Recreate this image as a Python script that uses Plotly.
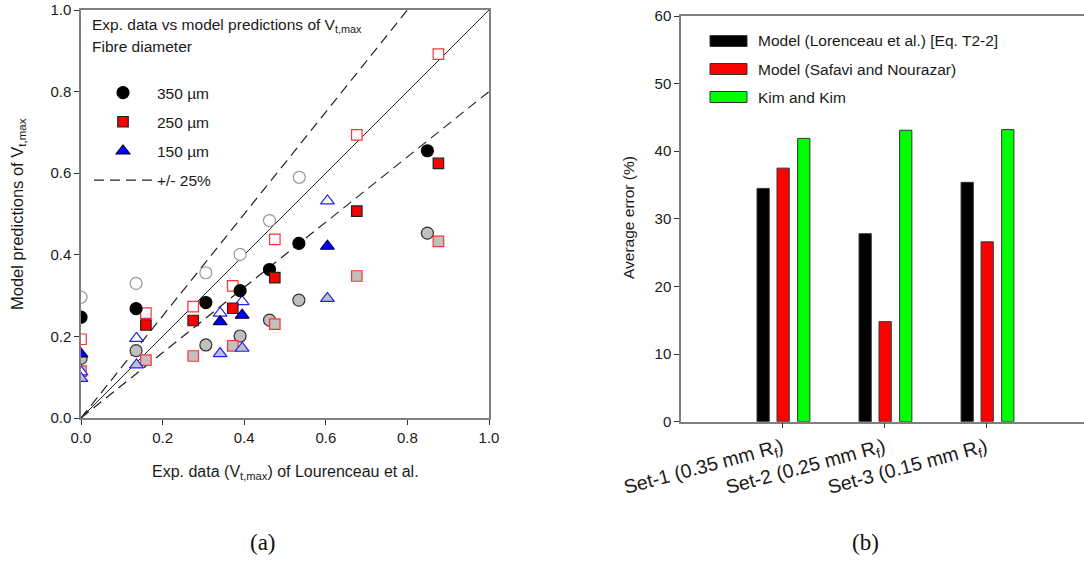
import plotly.graph_objects as go

W, H = 1084, 563

# ---------------- Left panel data (a) ----------------
x350 = [0.0, 0.135, 0.306, 0.390, 0.462, 0.534, 0.849]
y350_m1 = [0.247, 0.268, 0.283, 0.312, 0.364, 0.428, 0.655]
x350_m2 = [0.0, 0.135, 0.306, 0.390, 0.462, 0.535]
y350_m2 = [0.296, 0.330, 0.356, 0.401, 0.484, 0.590]
y350_m3 = [0.146, 0.165, 0.179, 0.201, 0.240, 0.289, 0.453]

x250 = [0.159, 0.275, 0.372, 0.475, 0.676, 0.876]
y250_m1 = [0.228, 0.239, 0.269, 0.344, 0.507, 0.624]
x250_m2 = [0.0, 0.159, 0.275, 0.372, 0.475, 0.676, 0.876]
y250_m2 = [0.193, 0.257, 0.273, 0.324, 0.438, 0.694, 0.892]
x250_m3 = [0.0, 0.159, 0.275, 0.372, 0.475, 0.676, 0.876]
y250_m3 = [0.115, 0.142, 0.152, 0.177, 0.230, 0.348, 0.433]

x150_m1 = [0.0, 0.341, 0.395, 0.604]
y150_m1 = [0.157, 0.236, 0.252, 0.421]
x150 = [0.0, 0.136, 0.341, 0.395, 0.604]
y150_m2 = [0.113, 0.195, 0.257, 0.285, 0.532]
y150_m3 = [0.097, 0.130, 0.158, 0.171, 0.293]

ref_x = [0.0, 1.0]
band = 0.25

# ---------------- Right panel data (b) ----------------
sets = ["Set-1 (0.35 mm R<sub>f</sub>)", "Set-2 (0.25 mm R<sub>f</sub>)", "Set-3 (0.15 mm R<sub>f</sub>)"]
err_lorenceau = [34.5, 27.8, 35.4]
err_safavi = [37.5, 14.8, 26.6]
err_kim = [41.9, 43.1, 43.2]
bar_names = ["Model (Lorenceau et al.) [Eq. T2-2]", "Model (Safavi and Nourazar)", "Kim and Kim"]
bar_colors = ["#000000", "#ff0000", "#00ff00"]

FONT = "Liberation Sans, Arial, sans-serif"
SERIF = "Liberation Serif, Times New Roman, serif"
GRAY = "#c0c0c0"
TXT = "#1a1a1a"

fig = go.Figure()

def px_x(p):
    return p / W

def px_y(p):
    return 1 - p / H

# reference lines
fig.add_trace(go.Scatter(x=ref_x, y=ref_x, mode="lines", line=dict(color="#222", width=1),
                         showlegend=False, hoverinfo="skip", xaxis="x", yaxis="y"))
up_x = [ref_x[0], ref_x[1] / (1 + band)]
fig.add_trace(go.Scatter(x=up_x, y=[v * (1 + band) for v in up_x], mode="lines",
                         line=dict(color="#222", width=1.2, dash="10px,6px"),
                         showlegend=False, hoverinfo="skip", xaxis="x", yaxis="y"))
lo_y = [v / (1 + band) for v in ref_x]
fig.add_trace(go.Scatter(x=ref_x, y=lo_y, mode="lines",
                         line=dict(color="#222", width=1.2, dash="10px,6px"),
                         showlegend=False, hoverinfo="skip", xaxis="x", yaxis="y"))

def sc(x, y, symbol, fill, edge, size, name=None, show=False, lw=1.2):
    fig.add_trace(go.Scatter(x=x, y=y, mode="markers", name=name, showlegend=show,
                             legendgroup=name, legend="legend",
                             marker=dict(symbol=symbol, color=fill, size=size,
                                         line=dict(color=edge, width=lw)),
                             xaxis="x", yaxis="y"))

# 350 µm
sc(x350_m2, y350_m2, "circle", "white", "#999999", 12)
sc(x350, y350_m3, "circle", GRAY, "#333333", 12)
# 250 µm
sc(x250_m2, y250_m2, "square", "white", "#ff3333", 10.5)
sc(x250_m3, y250_m3, "square", GRAY, "#ff3333", 10.5)
# 150 µm
sc(x150, y150_m2, "triangle-up", "white", "#2020ff", 12)
sc(x150, y150_m3, "triangle-up", GRAY, "#2020ff", 12)
# filled (legend) series
sc(x350, y350_m1, "circle", "#000000", "#000000", 12, "350 µm", True)
sc(x250, y250_m1, "square", "#ff0000", "#222222", 10.5, "250 µm", True)
sc(x150_m1, y150_m1, "triangle-up", "#0000ff", "#000044", 12, "150 µm", True)
fig.add_trace(go.Scatter(x=[None], y=[None], mode="lines", name="+/- 25%", legend="legend",
                         legendgroup="band",
                         line=dict(color="#222", width=1.2, dash="10px,6px"), xaxis="x", yaxis="y"))

# bars
offsets = [-0.245, -0.049, 0.153]
for name, vals, col, off in zip(bar_names, [err_lorenceau, err_safavi, err_kim], bar_colors, offsets):
    fig.add_trace(go.Bar(x=[0, 1, 2], y=vals, name=name, showlegend=False,
                         marker=dict(color=col, line=dict(color="#333", width=1)),
                         width=0.12, offset=off, xaxis="x2", yaxis="y2"))

axis_common = dict(showline=True, linecolor="#808080", linewidth=1.5, ticks="outside",
                   ticklen=5, tickcolor="#333", showgrid=False, zeroline=False, automargin=False)
tick15 = dict(family=FONT, size=15, color=TXT)

annotations = [
    dict(text="Exp. data vs model predictions of V<sub>t,max</sub>", x=px_x(90), y=px_y(25),
         xanchor="left", yanchor="middle", font=dict(family=FONT, size=15.5, color=TXT)),
    dict(text="Fibre diameter", x=px_x(90), y=px_y(46.5),
         xanchor="left", yanchor="middle", font=dict(family=FONT, size=15.5, color=TXT)),
    dict(text="Exp. data (V<sub>t,max</sub>) of Lourenceau et al.", x=px_x(285), y=px_y(472),
         xanchor="center", yanchor="middle", font=dict(family=FONT, size=16, color=TXT)),
    dict(text="Model predictions of V<sub>t,max</sub>", x=px_x(18), y=px_y(214), textangle=-90,
         xanchor="center", yanchor="middle", font=dict(family=FONT, size=16.5, color=TXT)),
    dict(text="Average error (%)", x=px_x(628), y=px_y(218), textangle=-90,
         xanchor="center", yanchor="middle", font=dict(family=FONT, size=15.5, color=TXT)),
    dict(text="(a)", x=px_x(263), y=px_y(542), xanchor="center", yanchor="middle",
         font=dict(family=SERIF, size=23, color="#111")),
    dict(text="(b)", x=px_x(865), y=px_y(542), xanchor="center", yanchor="middle",
         font=dict(family=SERIF, size=23, color="#111")),
]
shapes = []
# manual legend for panel (b)
leg_y = [41, 69, 97]
for name, col, yy in zip(bar_names, bar_colors, leg_y):
    shapes.append(dict(type="rect", xref="paper", yref="paper", x0=px_x(710), x1=px_x(747),
                       y0=px_y(yy + 5.5), y1=px_y(yy - 5.5), fillcolor=col,
                       line=dict(color="#333", width=1)))
    annotations.append(dict(text=name, x=px_x(756), y=px_y(yy), xanchor="left", yanchor="middle",
                            font=dict(family=FONT, size=15.5, color=TXT)))
for a in annotations:
    a.update(xref="paper", yref="paper", showarrow=False)

fig.update_layout(
    template="none",
    width=W, height=H, margin=dict(l=0, r=0, t=0, b=0, pad=0), autosize=False,
    paper_bgcolor="white", plot_bgcolor="white",
    font=dict(family=FONT, size=15, color=TXT),
    barmode="overlay",
    xaxis=dict(domain=[px_x(81), px_x(489)], range=[0, 1], tickvals=[0, 0.2, 0.4, 0.6, 0.8, 1.0],
               tickformat=".1f", mirror=True, anchor="y", tickfont=tick15, **axis_common),
    yaxis=dict(domain=[px_y(418), px_y(10)], range=[0, 1], tickvals=[0, 0.2, 0.4, 0.6, 0.8, 1.0],
               tickformat=".1f", mirror=True, anchor="x", tickfont=tick15, **axis_common),
    xaxis2=dict(domain=[px_x(681), 1.0], range=[-0.99, 2.96], tickvals=[0, 1, 2], ticktext=sets,
                tickangle=-15, mirror=True, anchor="y2",
                tickfont=dict(family=FONT, size=19.5, color=TXT), **axis_common),
    yaxis2=dict(domain=[px_y(421.7), px_y(16)], range=[0, 60], tickvals=[0, 10, 20, 30, 40, 50, 60],
                anchor="x2", tickfont=tick15, **axis_common),
    legend=dict(x=px_x(89), y=px_y(76), xanchor="left", yanchor="top", bgcolor="rgba(0,0,0,0)",
                borderwidth=0,
                font=dict(family=FONT, size=15.5, color=TXT), tracegroupgap=6, itemwidth=58),
    annotations=annotations,
    shapes=shapes,
)

post = ("document.documentElement.style.margin='0';document.body.style.margin='0';"
        "document.body.style.padding='0';document.body.style.overflow='hidden';")
fig.write_html("out.html", post_script=post)
